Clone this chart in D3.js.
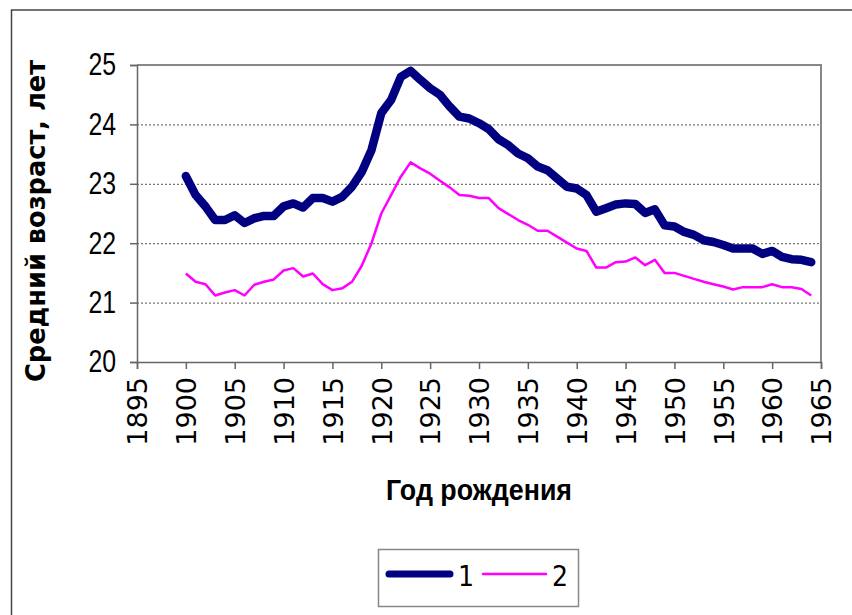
<!DOCTYPE html>
<html>
<head>
<meta charset="utf-8">
<script src="https://cdn.jsdelivr.net/npm/d3@7"></script>
<style>
  html, body { margin: 0; padding: 0; background: #fff; }
  svg { display: block; }
</style>
</head>
<body>
<figure id="chart" style="margin:0"></figure>
<script>
// birth years
const years = [1900, 1901, 1902, 1903, 1904, 1905, 1906, 1907, 1908, 1909,
  1910, 1911, 1912, 1913, 1914, 1915, 1916, 1917, 1918, 1919,
  1920, 1921, 1922, 1923, 1924, 1925, 1926, 1927, 1928, 1929,
  1930, 1931, 1932, 1933, 1934, 1935, 1936, 1937, 1938, 1939,
  1940, 1941, 1942, 1943, 1944, 1945, 1946, 1947, 1948, 1949,
  1950, 1951, 1952, 1953, 1954, 1955, 1956, 1957, 1958, 1959,
  1960, 1961, 1962, 1963, 1964];

// series "1"
const series1 = [23.13, 22.81, 22.62, 22.39, 22.39, 22.47, 22.34, 22.42, 22.46, 22.46,
  22.62, 22.67, 22.60, 22.76, 22.76, 22.70, 22.78, 22.95, 23.20, 23.57,
  24.19, 24.41, 24.80, 24.90, 24.75, 24.61, 24.50, 24.30, 24.13, 24.10,
  24.02, 23.92, 23.75, 23.65, 23.51, 23.43, 23.29, 23.23, 23.09, 22.95,
  22.92, 22.81, 22.53, 22.59, 22.65, 22.67, 22.66, 22.51, 22.57, 22.30,
  22.28, 22.19, 22.14, 22.05, 22.02, 21.97, 21.91, 21.91, 21.91, 21.82,
  21.87, 21.77, 21.73, 21.72, 21.68];

// series "2"
const series2 = [21.49, 21.35, 21.31, 21.12, 21.17, 21.21, 21.12, 21.30, 21.35, 21.39,
  21.54, 21.58, 21.44, 21.49, 21.31, 21.21, 21.24, 21.35, 21.62, 22.00,
  22.50, 22.81, 23.12, 23.36, 23.26, 23.17, 23.05, 22.94, 22.81, 22.80,
  22.76, 22.76, 22.59, 22.49, 22.39, 22.31, 22.21, 22.21, 22.11, 22.01,
  21.91, 21.87, 21.59, 21.59, 21.68, 21.69, 21.76, 21.63, 21.72, 21.50,
  21.50, 21.45, 21.40, 21.35, 21.31, 21.27, 21.22, 21.26, 21.26, 21.26,
  21.31, 21.26, 21.26, 21.23, 21.12];

const xTicks = [1895, 1900, 1905, 1910, 1915, 1920, 1925, 1930, 1935, 1940, 1945, 1950, 1955, 1960, 1965];
const yTicks = [20, 21, 22, 23, 24, 25];
const legendLabels = ['1', '2'];

const width = 852, height = 615;
const plot = { left: 137, right: 821, top: 65, bottom: 362 };

const svg = d3.select('figure#chart')
  .append('svg')
  .attr('width', width)
  .attr('height', height);

// outer chart frame (right/bottom edges are outside the picture)
svg.append('rect')
  .attr('x', 11.5).attr('y', 10)
  .attr('width', width + 20).attr('height', height + 20)
  .attr('fill', '#fff')
  .attr('stroke', '#444')
  .attr('stroke-width', 1.5);

const x = d3.scaleLinear()
  .domain([1895, 1965])
  .range([plot.left, plot.right]);

const y = d3.scaleLinear()
  .domain([20, 25])
  .range([plot.bottom, plot.top]);

// gridlines
svg.append('g')
  .selectAll('line')
  .data(yTicks.filter(d => d > 20 && d < 25))
  .enter()
  .append('line')
  .attr('x1', plot.left).attr('x2', plot.right)
  .attr('y1', d => y(d) + 0.5).attr('y2', d => y(d) + 0.5)
  .attr('stroke', '#555')
  .attr('stroke-width', 1)
  .attr('stroke-dasharray', '2,2');

// top and right border of plot area
svg.append('path')
  .attr('d', `M${plot.left},${plot.top}H${plot.right}V${plot.bottom}`)
  .attr('fill', 'none')
  .attr('stroke', '#888')
  .attr('stroke-width', 2);

// y axis
const yAxis = svg.append('g')
  .attr('transform', 'translate(' + plot.left + ',0)')
  .call(d3.axisLeft(y).tickValues(yTicks).tickSize(7).tickPadding(14).tickFormat(d3.format('d')));
yAxis.select('.domain').attr('stroke', '#666').attr('stroke-width', 1.5);
yAxis.selectAll('.tick line').attr('stroke', '#666').attr('stroke-width', 1.5);
// narrow digits: squeeze horizontally around the right anchor
yAxis.selectAll('text')
  .attr('x', 0)
  .attr('transform', 'translate(-21,0) scale(0.8,1)')
  .attr('fill', '#000')
  .style('font-family', '"Liberation Sans", sans-serif')
  .style('font-size', '31px');

// x axis
const xAxis = svg.append('g')
  .attr('transform', 'translate(0,' + plot.bottom + ')')
  .call(d3.axisBottom(x).tickValues(xTicks).tickSize(7).tickFormat(d3.format('d')));
xAxis.select('.domain').attr('stroke', '#666').attr('stroke-width', 1.5);
xAxis.selectAll('.tick line').attr('stroke', '#666').attr('stroke-width', 1.5);
xAxis.selectAll('text')
  .attr('transform', 'rotate(-90)')
  .attr('x', -15)
  .attr('y', 0)
  .attr('dy', '0.36em')
  .attr('fill', '#000')
  .style('text-anchor', 'end')
  .style('font-family', '"DejaVu Sans", sans-serif')
  .style('font-size', '27px');

// lines
const line = d3.line()
  .x((d, i) => x(years[i]))
  .y(d => y(d));

svg.append('path')
  .datum(series2)
  .attr('d', line)
  .attr('fill', 'none')
  .attr('stroke', '#ff00ff')
  .attr('stroke-width', 2.5)
  .attr('stroke-linejoin', 'round');

svg.append('path')
  .datum(series1)
  .attr('d', line)
  .attr('fill', 'none')
  .attr('stroke', '#000080')
  .attr('stroke-width', 8.5)
  .attr('stroke-linejoin', 'round')
  .attr('stroke-linecap', 'round');

// axis titles
svg.append('text')
  .text('Средний возраст, лет')
  .attr('transform', 'translate(45,221) rotate(-90)')
  .attr('text-anchor', 'middle')
  .attr('textLength', 322)
  .attr('lengthAdjust', 'spacingAndGlyphs')
  .style('font-family', '"DejaVu Sans", sans-serif')
  .style('font-weight', 'bold')
  .style('font-size', '26px');

svg.append('text')
  .text('Год рождения')
  .attr('x', 479)
  .attr('y', 500)
  .attr('text-anchor', 'middle')
  .attr('textLength', 186)
  .attr('lengthAdjust', 'spacingAndGlyphs')
  .style('font-family', '"Liberation Sans", sans-serif')
  .style('font-weight', 'bold')
  .style('font-size', '30px');

// legend
const legend = svg.append('g');
legend.append('rect')
  .attr('x', 378.5).attr('y', 549.5)
  .attr('width', 200).attr('height', 57)
  .attr('fill', '#fff')
  .attr('stroke', '#888')
  .attr('stroke-width', 1.5);

const legendItems = [
  { label: legendLabels[0], color: '#000080', w: 7, x1: 389, x2: 450, tx: 458 },
  { label: legendLabels[1], color: '#ff00ff', w: 2.5, x1: 483, x2: 546, tx: 552 }
];
legendItems.forEach(it => {
  legend.append('line')
    .attr('x1', it.x1).attr('x2', it.x2)
    .attr('y1', 574).attr('y2', 574)
    .attr('stroke', it.color)
    .attr('stroke-width', it.w)
    .attr('stroke-linecap', 'round');
  legend.append('text')
    .text(it.label)
    .attr('x', it.tx)
    .attr('y', 586)
    .style('font-family', '"DejaVu Sans Condensed", "DejaVu Sans", sans-serif')
    .style('font-size', '28px');
});
</script>
</body>
</html>
